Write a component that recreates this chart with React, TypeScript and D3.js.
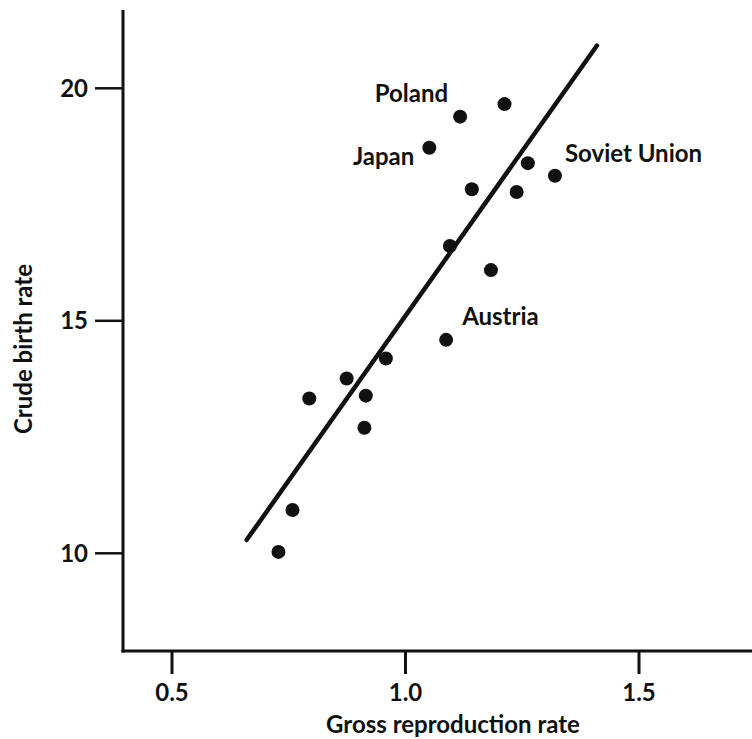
import React from "react";
import * as d3 from "d3";

// Gross reproduction rate vs. crude birth rate, one point per country
const grossReproduction = [
  1.212, 1.117, 1.051, 1.262, 1.32, 1.142, 1.238, 1.095, 1.183,
  1.087, 0.958, 0.874, 0.794, 0.915, 0.912, 0.758, 0.728,
];
const crudeBirthRate = [
  19.66, 19.39, 18.72, 18.39, 18.12, 17.83, 17.77, 16.61, 16.09,
  14.59, 14.19, 13.76, 13.33, 13.39, 12.7, 10.93, 10.03,
];

// Named countries: label text and the index of the point it marks
const countryNames = ["Poland", "Japan", "Soviet Union", "Austria"];
const countryPoint = [1, 2, 4, 9];

// Fitted regression line endpoints
const fitX = [0.66, 1.41];
const fitY = [10.29, 20.92];

const xTicks = [0.5, 1.0, 1.5];
const yTicks = [10, 15, 20];
const xTickLabels = ["0.5", "1.0", "1.5"];
const yTickLabels = ["10", "15", "20"];

const W = 752;
const H = 739;
const FONT = "Lato, 'Open Sans', sans-serif";
const FS = 24;

// label placement relative to its point, in pixels
const labelLayout: Record<string, { dx: number; dy: number; anchor: string }> = {
  Poland: { dx: -12, dy: -15, anchor: "end" },
  Japan: { dx: -15, dy: 17, anchor: "end" },
  "Soviet Union": { dx: 10, dy: -14, anchor: "start" },
  Austria: { dx: 16, dy: -15, anchor: "start" },
};

export default function App() {
  const x = d3.scaleLinear().domain([0.5, 1.5]).range([172, 639]);
  const y = d3.scaleLinear().domain([10, 20]).range([553.3, 88.3]);

  const axisX = 123;
  const axisY = 651;
  const axisTop = 10;

  const points = grossReproduction.map((g, i) => ({ g, c: crudeBirthRate[i] }));
  const fit = d3
    .line<number>()
    .x((v) => x(v))
    .y((_, i) => y(fitY[i]));

  const ink = "#111";

  return (
    <svg
      width={W}
      height={H}
      style={{ position: "absolute", left: 0, top: 0, background: "#fff" }}
      fontFamily={FONT}
    >
      {/* axes */}
      <line x1={axisX} y1={axisTop} x2={axisX} y2={axisY + 1.5} stroke={ink} strokeWidth={3} />
      <line x1={axisX - 1.5} y1={axisY} x2={W} y2={axisY} stroke={ink} strokeWidth={3} />

      {/* y ticks */}
      {yTicks.map((t, i) => (
        <g key={"y" + t}>
          <line x1={95} x2={axisX} y1={y(t)} y2={y(t)} stroke={ink} strokeWidth={2.5} />
          <text
            x={88}
            y={y(t)}
            dy="0.36em"
            textAnchor="end"
            fontSize={FS}
            fontWeight={700}
            fill={ink}
          >
            {yTickLabels[i]}
          </text>
        </g>
      ))}

      {/* x ticks */}
      {xTicks.map((t, i) => (
        <g key={"x" + t}>
          <line x1={x(t)} x2={x(t)} y1={axisY} y2={axisY + 23} stroke={ink} strokeWidth={3} />
          <text
            x={x(t)}
            y={701}
            textAnchor="middle"
            fontSize={FS}
            fontWeight={700}
            fill={ink}
          >
            {xTickLabels[i]}
          </text>
        </g>
      ))}

      {/* axis titles */}
      <text
        x={453}
        y={733}
        textAnchor="middle"
        fontSize={FS}
        fontWeight={700}
        fill={ink}
      >
        Gross reproduction rate
      </text>
      <text
        transform={`translate(32,349) rotate(-90)`}
        textAnchor="middle"
        fontSize={FS}
        fontWeight={700}
        fill={ink}
      >
        Crude birth rate
      </text>

      {/* regression line */}
      <path
        d={fit(fitX) || ""}
        fill="none"
        stroke={ink}
        strokeWidth={4.5}
        strokeLinecap="round"
      />

      {/* points */}
      {points.map((p, i) => (
        <circle key={i} cx={x(p.g)} cy={y(p.c)} r={7} fill={ink} />
      ))}

      {/* country labels */}
      {countryNames.map((name, i) => {
        const p = points[countryPoint[i]];
        const l = labelLayout[name];
        return (
          <text
            key={name}
            x={x(p.g) + l.dx}
            y={y(p.c) + l.dy}
            textAnchor={l.anchor}
            fontSize={FS}
            fontWeight={700}
            fill={ink}
          >
            {name}
          </text>
        );
      })}
    </svg>
  );
}
